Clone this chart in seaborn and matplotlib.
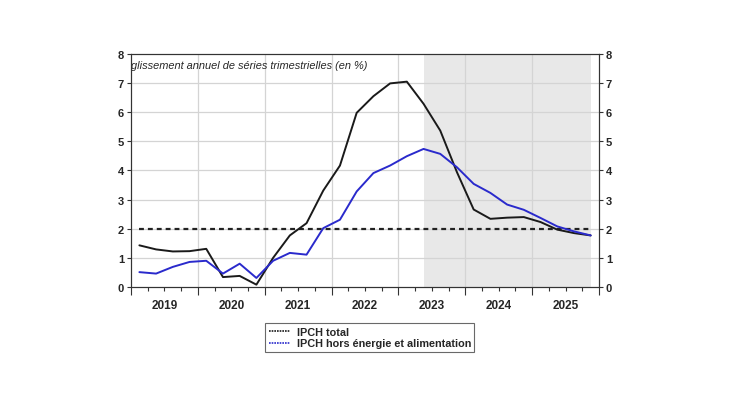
import numpy as np
import pandas as pd
import matplotlib
matplotlib.use("Agg")
import matplotlib.pyplot as plt
import seaborn as sns

# quarterly observations 2019Q1 .. 2025Q4
quarters = pd.period_range("2019Q1", "2025Q4", freq="Q")
ipch_total = [1.43, 1.29, 1.22, 1.23, 1.31, 0.34, 0.38, 0.08,
              1.00, 1.77, 2.19, 3.31, 4.17, 5.98, 6.55, 6.99,
              7.05, 6.29, 5.37, 3.94, 2.66, 2.34, 2.38, 2.40,
              2.23, 1.97, 1.85, 1.77]
ipch_core = [0.51, 0.46, 0.69, 0.86, 0.90, 0.46, 0.80, 0.31,
             0.90, 1.17, 1.11, 2.02, 2.31, 3.28, 3.91, 4.17,
             4.49, 4.74, 4.57, 4.11, 3.54, 3.23, 2.83, 2.65,
             2.37, 2.08, 1.91, 1.77]
target = 2.0
years = list(range(2019, 2026))
shade_from = "2023Q2"
series_names = ["IPCH total", "IPCH hors énergie et alimentation"]
title_txt = "glissement annuel de séries trimestrielles (en %)"

# position of each quarter: middle of the quarter in decimal years
xq = np.array([q.year + (q.quarter - 0.5) / 4 for q in quarters])
df = pd.DataFrame({"x": np.concatenate([xq, xq]),
                   "val": ipch_total + ipch_core,
                   "serie": [series_names[0]] * len(xq) + [series_names[1]] * len(xq)})

sns.set_style("white")
plt.rcParams["font.family"] = ["Liberation Sans", "DejaVu Sans"]

fig = plt.figure(figsize=(7.3, 4.1), dpi=100)
ax = fig.add_axes([0.1795, 0.2976, 0.6411, 0.5683])

# projection shading
sq = pd.Period(shade_from, freq="Q")
x0 = sq.year + (sq.quarter - 0.5) / 4
ax.axvspan(x0, xq[-1], color="#e8e8e8", lw=0, zorder=0)

# grid
for yv in range(1, 8):
    ax.axhline(yv, color="#d4d4d4", lw=0.9, zorder=1)
for yr in years[1:]:
    ax.axvline(yr, color="#d4d4d4", lw=0.9, zorder=1)

# 2% line
ax.plot([xq[0], xq[-1]], [target, target], color="#222222", lw=1.6,
        ls=(0, (2.2, 1.8)), zorder=2)

sns.lineplot(data=df, x="x", y="val", hue="serie", palette=["#1a1a1a", "#2a2acc"],
             lw=1.4, ax=ax, legend=False, zorder=3)

ax.set_xlim(2019, 2026)
ax.set_ylim(0, 8)
ax.set_xlabel("")
ax.set_ylabel("")
ax.set_yticks(range(0, 9))
ax.set_yticklabels([str(v) for v in range(0, 9)], fontsize=8, fontweight="bold")
ax.set_xticks(years + [2026])
ax.set_xticklabels([])
ax.set_xticks(np.arange(2019, 2026, 0.25), minor=True)
ax.tick_params(axis="x", which="major", bottom=True, direction="out", length=6,
               width=0.8, color="#333333")
ax.tick_params(axis="x", which="minor", bottom=True, direction="out", length=3,
               width=0.8, color="#333333")
ax.tick_params(axis="y", left=True, direction="out", length=3, width=0.8,
               color="#333333", pad=2)
for yr in years:
    ax.text(yr + 0.5, -0.42, str(yr), ha="center", va="top", fontsize=8.5,
            fontweight="bold", transform=ax.transData)
for s in ax.spines.values():
    s.set_color("#333333")
    s.set_linewidth(0.8)

ax2 = ax.twinx()
ax2.set_ylim(0, 8)
ax2.set_yticks(range(0, 9))
ax2.set_yticklabels([str(v) for v in range(0, 9)], fontsize=8, fontweight="bold")
ax2.tick_params(axis="y", right=True, direction="out", length=3, width=0.8,
                color="#333333", pad=2)
for s in ax2.spines.values():
    s.set_color("#333333")
    s.set_linewidth(0.8)

ax.text(0.0, 0.975, title_txt, transform=ax.transAxes, ha="left", va="top",
        fontsize=7.9, style="italic")

# legend below the chart
h1, = ax.plot([], [], color="#1a1a1a", lw=1.2, ls=(0, (1, 0.6)))
h2, = ax.plot([], [], color="#2a2acc", lw=1.2, ls=(0, (1, 0.6)))
leg = fig.legend([h1, h2], series_names, loc="upper left",
                 bbox_to_anchor=(260 / 730, 1 - 319 / 410), frameon=True,
                 fancybox=False, edgecolor="#444444", handlelength=2.0,
                 handletextpad=0.6, borderpad=0.3, labelspacing=0.15,
                 prop={"size": 7.8, "weight": "bold"})
leg.get_frame().set_linewidth(0.8)

fig.savefig("out.png", dpi=100)
